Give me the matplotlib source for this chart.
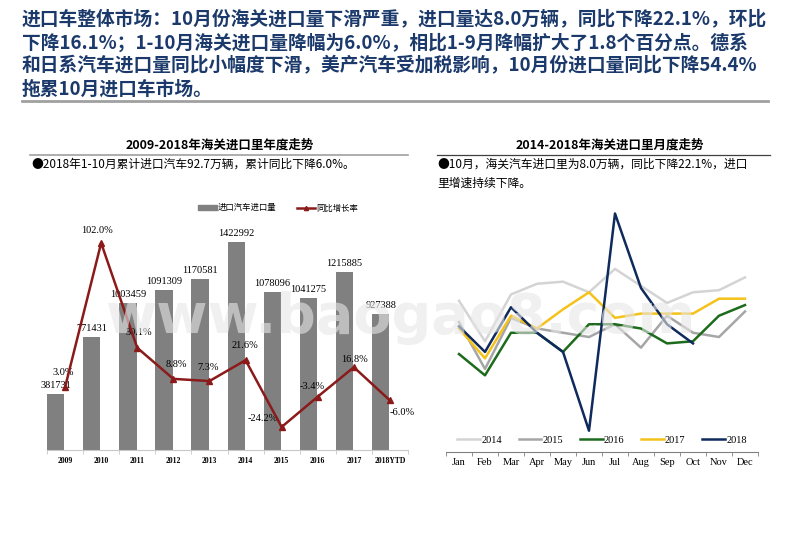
import numpy as np
import matplotlib
matplotlib.use('Agg')
import matplotlib.pyplot as plt
from matplotlib.lines import Line2D
from matplotlib.patches import Patch

plt.rcParams['font.family'] = ['Noto Sans CJK SC', 'DejaVu Sans']

# ---------------- data ----------------
years = ['2009', '2010', '2011', '2012', '2013', '2014', '2015', '2016', '2017', '2018YTD']
imports = [381731, 771431, 1003459, 1091309, 1170581, 1422992, 1078096, 1041275, 1215885, 927388]
growth = [3.0, 102.0, 30.1, 8.8, 7.3, 21.6, -24.2, -3.4, 16.8, -6.0]

months = ['Jan', 'Feb', 'Mar', 'Apr', 'May', 'Jun', 'Jul', 'Aug', 'Sep', 'Oct', 'Nov', 'Dec']
m2014 = [10.0, 8.1, 10.3, 10.8, 10.9, 10.4, 11.5, 10.7, 9.9, 10.4, 10.5, 11.1]
m2015 = [9.0, 6.8, 9.2, 8.7, 8.5, 8.3, 8.9, 7.8, 9.3, 8.5, 8.3, 9.5]
m2016 = [7.5, 6.5, 8.5, 8.5, 7.6, 8.9, 8.9, 8.7, 8.0, 8.1, 9.3, 9.8]
m2017 = [8.7, 7.3, 9.3, 8.7, 9.6, 10.4, 9.2, 9.4, 9.4, 9.4, 10.1, 10.1]
m2018 = [8.8, 7.6, 9.7, 8.5, 7.6, 3.9, 14.1, 10.6, 8.9, 8.0]

header = ['进口车整体市场：10月份海关进口量下滑严重，进口量达8.0万辆，同比下降22.1%，环比',
          '下降16.1%；1-10月海关进口量降幅为6.0%，相比1-9月降幅扩大了1.8个百分点。德系',
          '和日系汽车进口量同比小幅度下滑，美产汽车受加税影响，10月份进口量同比下降54.4%',
          '拖累10月进口车市场。']

W, H = 800, 553
fig = plt.figure(figsize=(W / 100, H / 100), dpi=100)

def fx(px):
    return px / W

def fy(py):
    return 1 - py / H

navy = '#1b3a6b'

# ---------------- header ----------------
for k, line in enumerate(header):
    fig.text(fx(22), fy(19 + 23.5 * k), line, fontsize=13.5, fontweight='bold',
             color=navy, va='center', ha='left')
fig.add_artist(Line2D([fx(22), fx(768)], [fy(101), fy(101)], color='#a0a0a0', lw=2))

# ---------------- subtitles ----------------
fig.text(fx(220), fy(145), '2009-2018年海关进口里年度走势', fontsize=9, fontweight='bold',
         ha='center', va='center')
fig.add_artist(Line2D([fx(30), fx(408)], [fy(155), fy(155)], color='#a0a0a0', lw=1.2))
fig.text(fx(31), fy(164), '●2018年1-10月累计进口汽车92.7万辆，累计同比下降6.0%。',
         fontsize=8.5, ha='left', va='center')

fig.text(fx(610), fy(145), '2014-2018年海关进口里月度走势', fontsize=9, fontweight='bold',
         ha='center', va='center')
fig.add_artist(Line2D([fx(437), fx(770)], [fy(155), fy(155)], color='#404040', lw=0.9))
fig.text(fx(437), fy(164), '●10月，海关汽车进口里为8.0万辆，同比下降22.1%，进口',
         fontsize=8.5, ha='left', va='center')
fig.text(fx(437), fy(183), '里增速持续下降。', fontsize=8.5, ha='left', va='center')

# ---------------- left chart ----------------
ax = fig.add_axes([fx(47), fy(450), fx(408) - fx(47), fy(195) - fy(450)])
x = np.arange(len(years))
ax.bar(x - 0.26, imports, width=0.48, color='#808080', zorder=2)
ax.set_xlim(-0.5, len(years) - 0.5)
ax.set_ylim(0, (450 - 195) * 6840)
for s in ['top', 'left', 'right']:
    ax.spines[s].set_visible(False)
ax.spines['bottom'].set_color('#c8c8c8')
ax.set_yticks([])
ax.set_xticks(x)
ax.set_xticklabels(years, fontsize=5.5, fontweight='bold', family='Liberation Serif')
ax.tick_params(axis='x', which='major', length=0, pad=5)
ax.set_xticks(np.arange(-0.5, len(years)), minor=True)
ax.tick_params(axis='x', which='minor', length=3, color='#c8c8c8')
for xi, v in zip(x, imports):
    ax.annotate(str(v), (xi - 0.26, v), xytext=(0, 3), textcoords='offset points',
                ha='center', va='bottom', fontsize=7.5, family='Liberation Serif', zorder=3)

ax2 = ax.twinx()
ax2.set_ylim((391.7 - 450) * 0.686, (391.7 - 195) * 0.686)
ax2.plot(x, growth, color='#8b1a1a', lw=1.8, marker='^', markersize=5, zorder=4)
ax2.axis('off')
# label offsets in pixels (dx, dy up), alignment
pct_off = [(-2, 15, 'center'), (-4, 13, 'center'), (2, 15, 'center'), (3, 14, 'center'),
           (-1, 14, 'center'), (-1, 15, 'center'), (-19, 8, 'center'), (-6, 10, 'center'),
           (1, 8, 'center'), (0, -12, 'left')]
for xi, g, (dx, dy, ha) in zip(x, growth, pct_off):
    ax2.annotate(f'{g:.1f}%', (xi, g), xytext=(dx * 0.72, dy * 0.72), textcoords='offset points',
                 ha=ha, va='center', fontsize=7.5, family='Liberation Serif')

leg_handles = [Patch(color='#808080'),
               Line2D([], [], color='#8b1a1a', lw=1.8, marker='^', markersize=3)]
fig.legend(leg_handles, ['进口汽车进口量', '同比增长率'], ncol=2, frameon=False,
           loc='center', bbox_to_anchor=(fx(278), fy(208)), fontsize=6,
           handlelength=2.2, handleheight=0.5, columnspacing=2.5, handletextpad=0.1)

# ---------------- right chart ----------------
bx = fig.add_axes([fx(446), fy(452), fx(758) - fx(446), fy(205) - fy(452)])
mx = np.arange(len(months))
series = [('2014', m2014, '#d4d4d4'), ('2015', m2015, '#a6a6a6'),
          ('2016', m2016, '#1d6b1d'), ('2017', m2017, '#f4c21a'),
          ('2018', m2018, '#0f2a5c')]
for name, vals, col in series:
    bx.plot(mx[:len(vals)], vals, color=col, lw=1.8, label=name)
bx.set_xlim(-0.5, 11.5)
bx.set_ylim(2.9, 14.5)
for s in ['top', 'left', 'right']:
    bx.spines[s].set_visible(False)
bx.spines['bottom'].set_color('#808080')
bx.set_yticks([])
bx.set_xticks(mx)
bx.set_xticklabels(months, fontsize=7.5, family='Liberation Serif')
bx.tick_params(axis='x', which='major', length=0, pad=4)
bx.set_xticks(np.arange(-0.5, 12), minor=True)
bx.tick_params(axis='x', which='minor', length=3, color='#808080')
bx.legend(ncol=5, frameon=False, loc='center', bbox_to_anchor=(0.5, (452 - 440) / 247),
          prop={'family': 'Liberation Serif', 'size': 7.5}, handlelength=2.2,
          columnspacing=1.6, handletextpad=0.1)

# watermark
fig.text(0.5, fy(333), 'www.baogao8.com', fontsize=40, fontweight='bold', family='DejaVu Sans',
         color='#e6e6e6', alpha=0.6, ha='center', va='baseline', zorder=10)

fig.savefig('out.png', dpi=100)
